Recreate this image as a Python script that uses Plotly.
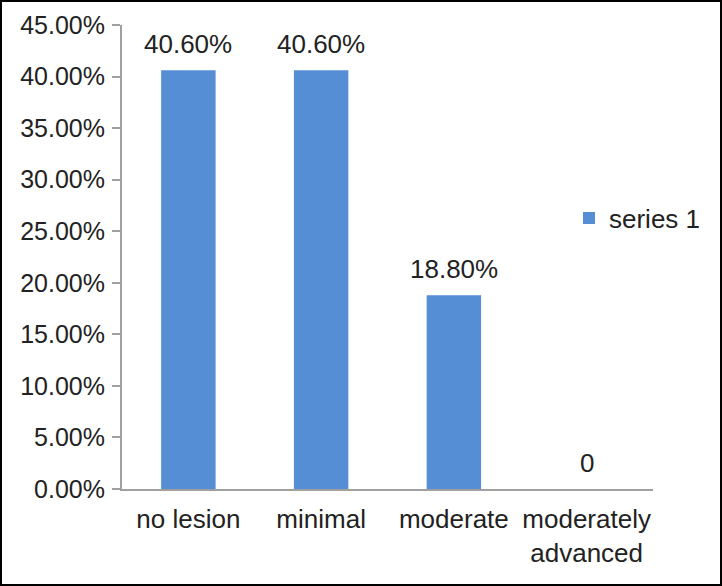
import plotly.graph_objects as go

categories = ["no lesion", "minimal", "moderate", "moderately<br>advanced"]
values = [0.406, 0.406, 0.188, 0.0]
labels = ["40.60%", "40.60%", "18.80%", "0"]
series_name = "series 1"

W, H = 722, 586
L, R, T, B = 122, 69, 25, 97
pw, ph = W - L - R, H - T - B

FAM = "Liberation Sans, Arial, sans-serif"
tick_font = dict(family=FAM, size=25, color="#222222")
big_font = dict(family=FAM, size=26, color="#222222")

fig = go.Figure()
fig.add_trace(go.Bar(
    x=categories, y=values, name=series_name,
    marker=dict(color="#558ED5", line=dict(width=0)),
))

for c, v, t in zip(categories, values, labels):
    fig.add_annotation(x=c, y=v, text=t, showarrow=False, xanchor="center",
                       yanchor="bottom", yshift=9, font=big_font)

def px(x):
    return (x - L) / pw

def py(y):
    return (H - B - y) / ph

fig.update_layout(
    width=W, height=H,
    margin=dict(l=L, r=R, t=T, b=B, autoexpand=False),
    paper_bgcolor="white", plot_bgcolor="white",
    font=tick_font,
    bargap=0.59,
    showlegend=True,
    legend=dict(x=px(569), y=py(218), xanchor="left", yanchor="middle",
                bgcolor="rgba(0,0,0,0)", font=big_font),
    xaxis=dict(showline=True, linecolor="#A0A0A0", linewidth=2, automargin=False,
               ticks="", showgrid=False, tickfont=big_font, ticklabelstandoff=6),
    yaxis=dict(range=[0, 0.45], dtick=0.05, tickformat=".2%", automargin=False,
               showline=True, linecolor="#A0A0A0", linewidth=2,
               ticks="outside", ticklen=8, tickwidth=2, tickcolor="#A0A0A0",
               ticklabelstandoff=2,
               showgrid=False, zeroline=False, tickfont=tick_font),
    shapes=[dict(type="rect", xref="paper", yref="paper",
                 x0=px(1), x1=px(721), y0=py(585), y1=py(1),
                 line=dict(color="black", width=2))],
)

fig.write_html("out.html", config={"displayModeBar": False},
               post_script="document.body.style.margin='0';document.body.style.overflow='hidden';")
